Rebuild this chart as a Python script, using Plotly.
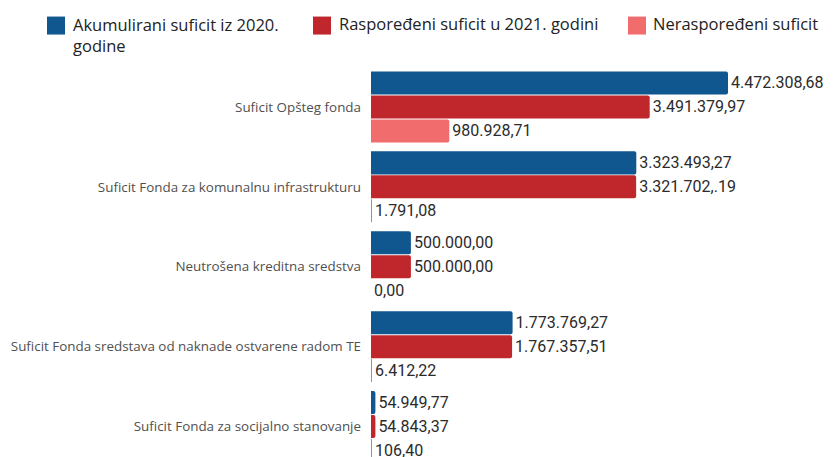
import plotly.graph_objects as go

categories = [
    "Suficit Opšteg fonda",
    "Suficit Fonda za komunalnu infrastrukturu",
    "Neutrošena kreditna sredstva",
    "Suficit Fonda sredstava od naknade ostvarene radom TE",
    "Suficit Fonda za socijalno stanovanje",
]
series_names = [
    "Akumulirani suficit iz 2020. godine",
    "Raspoređeni suficit u 2021. godini",
    "Neraspoređeni suficit",
]
akumulirani = [4472308.68, 3323493.27, 500000.00, 1773769.27, 54949.77]
rasporedjeni = [3491379.97, 3321702.19, 500000.00, 1767357.51, 54843.37]
nerasporedjeni = [980928.71, 1791.08, 0.00, 6412.22, 106.40]
akumulirani_labels = ["4.472.308,68", "3.323.493,27", "500.000,00", "1.773.769,27", "54.949,77"]
rasporedjeni_labels = ["3.491.379,97", "3.321.702,.19", "500.000,00", "1.767.357,51", "54.843,37"]
nerasporedjeni_labels = ["980.928,71", "1.791,08", "0,00", "6.412,22", "106,40"]

colors = ["#10568F", "#C0272D", "#F06C6D"]

# page has an 8px body margin; figure coordinates = page pixels - 8
OFF = 8
W, H = 833 - OFF, 457 - OFF
ML, MR, MT, MB = 371 - OFF, 0, 66.5 - OFF, 0
PW, PH = W - ML - MR, H - MT - MB


def px_x(px):
    return (px - OFF - ML) / PW


def px_y(py):
    return (H - MB - (py - OFF)) / PH


fig = go.Figure()
for vals, labels, name, col in zip(
    [akumulirani, rasporedjeni, nerasporedjeni],
    [akumulirani_labels, rasporedjeni_labels, nerasporedjeni_labels],
    series_names,
    colors,
):
    fig.add_trace(go.Bar(
        y=categories, x=vals, orientation="h", name=name,
        marker=dict(color=col, line=dict(width=0), cornerradius=2),
        text=labels, textposition="outside", cliponaxis=False,
        textfont=dict(family="Roboto", size=16, color="#2b2b2b"),
        showlegend=False, hoverinfo="skip",
    ))

cat_px = 80
fig.update_layout(
    width=W, height=H,
    margin=dict(l=ML, r=MR, t=MT, b=MB, autoexpand=False),
    barmode="group", bargap=0.1, bargroupgap=0.04,
    plot_bgcolor="white", paper_bgcolor="white",
    xaxis=dict(range=[0, 4472308.68 * PW / 357], visible=False, showgrid=False, zeroline=False),
    yaxis=dict(range=[-0.5 + PH / cat_px, -0.5], showgrid=False, zeroline=False, showline=False,
               ticks="", ticklabelstandoff=9,
               tickfont=dict(family="Open Sans", size=13.4, color="#505050")),
)

# custom legend
legend_items = [
    (47, 73, ["Akumulirani suficit iz 2020.", "godine"], 24),
    (313, 339, ["Raspoređeni suficit u 2021. godini"], 23),
    (628, 653, ["Neraspoređeni suficit"], 23),
]
for (sq_x, tx, lines, ty), col in zip(legend_items, colors):
    fig.add_shape(type="rect", xref="paper", yref="paper",
                  x0=px_x(sq_x), x1=px_x(sq_x + 18), y0=px_y(34), y1=px_y(16),
                  fillcolor=col, line=dict(width=0))
    for i, line in enumerate(lines):
        fig.add_annotation(xref="paper", yref="paper", x=px_x(tx), y=px_y(ty + 21 * i),
                           xanchor="left", yanchor="middle", showarrow=False, text=line,
                           xshift=-2,
                           font=dict(family="Open Sans", size=16.5, color="#222222"))

fig.write_html("out.html")
